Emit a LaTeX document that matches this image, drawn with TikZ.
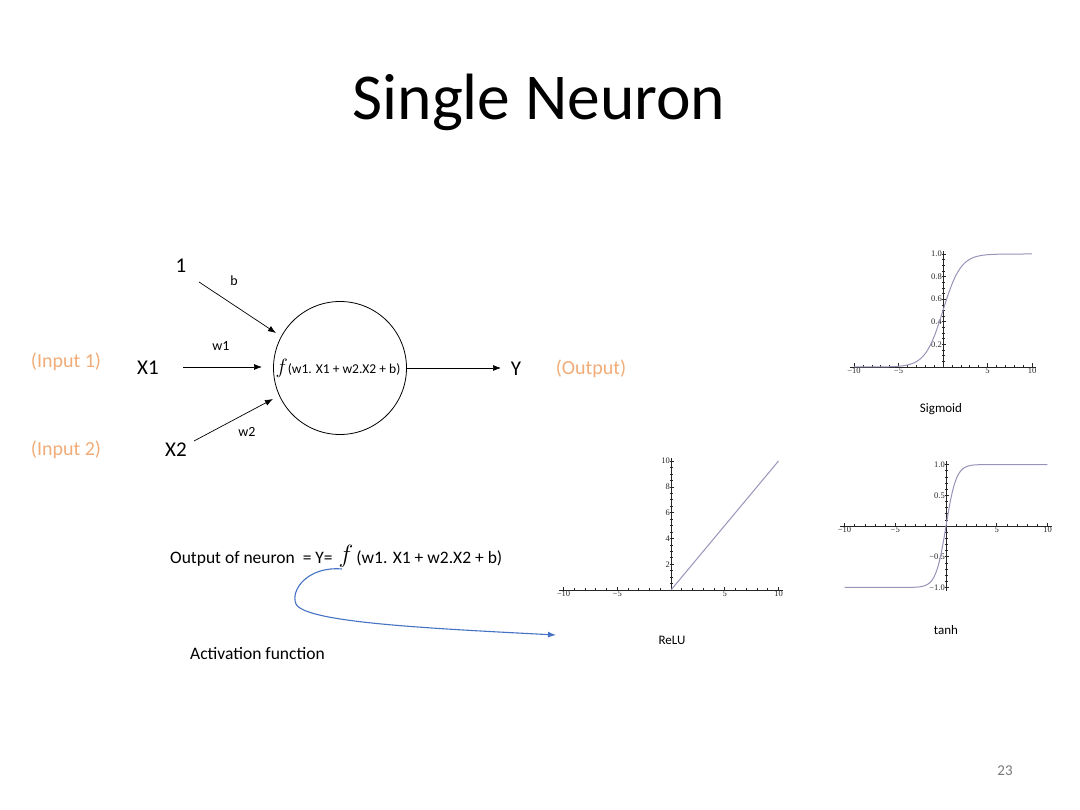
\documentclass[tikz,border=0pt]{standalone}
\usepackage{fontspec}
\setmainfont{Carlito}
\newfontfamily\plotfont{Liberation Serif}
\usetikzlibrary{arrows.meta}
\definecolor{inorange}{RGB}{242,172,120}
\definecolor{curveblue}{RGB}{68,114,196}
\definecolor{plotline}{RGB}{150,148,185}
\definecolor{pagegray}{RGB}{120,120,120}
\tikzset{
  lbl/.style={inner sep=0pt, font=\fontsize{21}{24}\selectfont},
  wlbl/.style={inner sep=0pt, font=\fontsize{14}{16}\selectfont},
  inlbl/.style={inner sep=0pt, text=inorange, font=\fontsize{20}{23}\selectfont},
  conn/.style={draw=black, line width=0.7pt, -{Latex[length=8pt,width=6pt]}},
  plotaxis/.style={draw=black!85, line width=0.6pt},
  plotcurve/.style={draw=plotline, line width=1pt},
  ticklab/.style={inner sep=1pt, font=\plotfont\fontsize{8.5}{9}\selectfont, text=black!85},
  plotname/.style={inner sep=0pt, font=\fontsize{13}{15}\selectfont},
}
\begin{document}
\begin{tikzpicture}[x=1pt,y=-1pt]
\useasboundingbox (0,0) rectangle (1080,810);
\fill[white] (0,0) rectangle (1080,810);

% title
\node[inner sep=0pt, font=\fontsize{65.5}{72}\selectfont] (title) at (539,102) {Single Neuron};

% neuron
\node[circle, draw, line width=0.8pt, minimum size=133pt, inner sep=0pt] (n) at (340,368) {};
\node[inner sep=0pt] (ntext) at (338,368) {{\fontsize{21}{22}\selectfont$f$}{\fontsize{13.5}{15}\selectfont(w1. X1 + w2.X2 + b)}};

\node[lbl] (one) at (181,266) {1};
\node[wlbl] (b) at (234,281) {b};
\node[lbl] (x1) at (148,368) {X1};
\node[wlbl] (w1) at (221,346) {w1};
\node[lbl] (x2) at (176,450) {X2};
\node[wlbl] (w2) at (247,432) {w2};
\node[lbl] (y) at (516,369) {Y};
\node[inlbl] (in1) at (66,362) {(Input 1)};
\node[inlbl] (in2) at (66,450) {(Input 2)};
\node[inlbl] (outl) at (591,369) {(Output)};

\coordinate (bs) at (199,282);
\coordinate (be) at (276,333);
\coordinate (x1s) at (183,367);
\coordinate (x1e) at (262,367);
\coordinate (x2s) at (194,441);
\coordinate (x2e) at (273,399);
\coordinate (ye) at (501,368);
\draw[conn] (bs) -- (be);
\draw[conn] (x1s) -- (x1e);
\draw[conn] (x2s) -- (x2e);
\draw[conn] (n.east) -- (ye);

% formula
\node[inner sep=0pt, anchor=base west, font=\fontsize{17.5}{20}\selectfont] (form) at (170,563) {Output of neuron \ = Y= \ \ \ \ \ (w1. X1 + w2.X2 + b)};
\node[inner sep=0pt, font=\fontsize{29}{30}\selectfont] (fbig) at (346,556) {$f$};
\node[inner sep=0pt, anchor=base west, font=\fontsize{17.5}{20}\selectfont] (act) at (190,659) {Activation function};

\coordinate (cs) at (342,569);
\coordinate (ce) at (556,635);
\draw[curveblue, line width=1.1pt, -{Latex[length=8pt,width=6pt]}]
  (cs) .. controls (308,566) and (290,590) .. (296,604)
       .. controls (305,622) and (420,628) .. (ce);

% ---------- Sigmoid ----------
\begin{scope}[shift={(943,367)}, x=8.9pt, y=113pt]
  \draw[plotaxis] (-10.4,0) -- (10.4,0);
  \draw[plotaxis] (0,0) -- (0,1.03);
  \foreach \i in {-10,...,10} \draw[plotaxis] (\i,0) ++(0,-1pt) -- ++(0,3pt);
  \foreach \i in {-10,-5,5,10} \draw[plotaxis] (\i,0) ++(0,-1pt) -- ++(0,4.5pt);
  \foreach \j in {1,...,20} \draw[plotaxis] (0,\j/20) ++(-1pt,0) -- ++(3pt,0);
  \foreach \j in {2,4,6,8,10} \draw[plotaxis] (0,\j/10) ++(-1.5pt,0) -- ++(4.5pt,0);
  \foreach \i/\t in {-10/−10,-5/−5,5/5,10/10} \node[ticklab, below] (sx\i) at (\i,0) {\t};
  \foreach \j/\t in {2/0.2,4/0.4,6/0.6,8/0.8,10/1.0} \node[ticklab, left] (sy\j) at (0,\j/10) {\t};
  \draw[plotcurve] plot[domain=-10:10, samples=150, smooth]
    (\x,{0.5+sign(\x)*(0.5-exp(-abs(\x))/(1+exp(-abs(\x))))});
\end{scope}
\node[plotname] (sig) at (941,409) {Sigmoid};

% ---------- tanh ----------
\begin{scope}[shift={(946,526)}, x=10.15pt, y=61.5pt]
  \draw[plotaxis] (-10.4,0) -- (10.4,0);
  \draw[plotaxis] (0,-1.05) -- (0,1.05);
  \foreach \i in {-10,...,10} \draw[plotaxis] (\i,0) ++(0,-1pt) -- ++(0,3pt);
  \foreach \i in {-10,-5,5,10} \draw[plotaxis] (\i,0) ++(0,-1pt) -- ++(0,4.5pt);
  \foreach \j in {-10,...,10} \draw[plotaxis] (0,\j/10) ++(-1pt,0) -- ++(3pt,0);
  \foreach \j in {-10,-5,5,10} \draw[plotaxis] (0,\j/10) ++(-1.5pt,0) -- ++(4.5pt,0);
  \foreach \i/\t in {-10/−10,-5/−5,5/5,10/10} \node[ticklab, below] (tx\i) at (\i,0) {\t};
  \foreach \j/\t in {-10/−1.0,-5/−0.5,5/0.5,10/1.0} \node[ticklab, left] (ty\j) at (0,\j/10) {\t};
  \draw[plotcurve] plot[domain=-10:10, samples=150, smooth]
    (\x,{sign(\x)*(1-exp(-2*abs(\x)))/(1+exp(-2*abs(\x)))});
\end{scope}
\node[plotname] (tanhl) at (946,630) {tanh};

% ---------- ReLU ----------
\begin{scope}[shift={(671,590)}, x=10.75pt, y=12.9pt]
  \draw[plotaxis] (-10.4,0) -- (10.4,0);
  \draw[plotaxis] (0,0) -- (0,10.2);
  \foreach \i in {-10,...,10} \draw[plotaxis] (\i,0) ++(0,-1pt) -- ++(0,3pt);
  \foreach \i in {-10,-5,5,10} \draw[plotaxis] (\i,0) ++(0,-1pt) -- ++(0,4.5pt);
  \foreach \j in {1,...,20} \draw[plotaxis] (0,\j/2) ++(-1pt,0) -- ++(3pt,0);
  \foreach \j in {2,4,6,8,10} \draw[plotaxis] (0,\j) ++(-1.5pt,0) -- ++(4.5pt,0);
  \foreach \i/\t in {-10/−10,-5/−5,5/5,10/10} \node[ticklab, below] (rx\i) at (\i,0) {\t};
  \foreach \j in {2,4,6,8,10} \node[ticklab, left] (ry\j) at (0,\j) {\j};
  \draw[plotcurve] (0,0) -- (10,10);
\end{scope}
\node[plotname] (relu) at (672,640) {ReLU};

% page number
\node[inner sep=0pt, text=pagegray, font=\fontsize{15}{17}\selectfont] (pg) at (1005,771) {23};
\end{tikzpicture}
\end{document}
